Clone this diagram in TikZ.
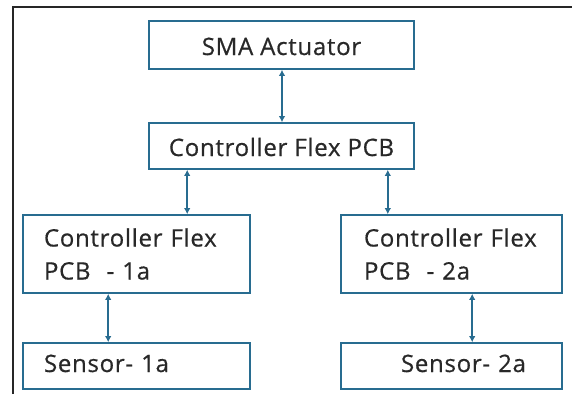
\documentclass[tikz,border=0pt]{standalone}
\usepackage{fontspec}
\setmainfont{Open Sans}[LetterSpace=3,FakeBold=0.6]
\usepackage{xcolor}
\usetikzlibrary{arrows.meta,calc}
\definecolor{boxblue}{RGB}{40,108,144}
\definecolor{txtgray}{RGB}{40,40,40}

\begin{document}
\begin{tikzpicture}[x=1pt,y=-1pt,
        every node/.style={draw=boxblue,line width=1.6pt,text=txtgray,
            font=\fontsize{24}{33}\selectfont,inner ysep=0pt},
        link/.style={draw=boxblue,line width=1.8pt,{Latex[length=6pt,width=6.5pt]}-{Latex[length=6pt,width=6.5pt]}}]

            % page and the frame round it
            \useasboundingbox (0,0) rectangle (572,394);
            \draw[line width=1.8pt,black!85] (13,394) -- (13,7) -- (572,7);

            % top row
            \node (sma) [minimum width=265pt,minimum height=48pt,text height=20pt,text depth=0pt] at (281.5,45) {SMA Actuator};
            \node (ctrl) [minimum width=265pt,minimum height=46pt,text height=20pt,text depth=0pt] at (281.5,146) {Controller Flex PCB};

            % the two flex boards
            \node (pcbA) [minimum width=227pt,minimum height=78pt,text width=185pt,inner xsep=21pt,align=left]
                at (136.5,254) {Controller Flex\\PCB\ \ - 1a};
            \node (pcbB) [minimum width=221pt,minimum height=78pt,text width=175pt,inner xsep=23pt,align=left]
                at (451.5,254) {Controller Flex\\PCB\ \ - 2a};

            % sensors
            \node (senA) [minimum width=227pt,minimum height=46pt,text width=185pt,inner xsep=21pt,align=left,
                text height=12pt,text depth=0pt] at (136.5,366) {Sensor- 1a};
            \node (senB) [minimum width=221pt,minimum height=46pt,text width=161pt,inner xsep=30pt,align=left,
                text height=12pt,text depth=0pt] at (451.5,366) {\hspace*{30pt}Sensor- 2a};

            % links
            \draw[link] ([xshift=0.5pt]sma.south) -- ([xshift=0.5pt]ctrl.north);
            \draw[link] ([xshift=39pt]ctrl.south west) -- ([xshift=39pt]ctrl.south west |- pcbA.north);
            \draw[link] ([xshift=-27pt]ctrl.south east) -- ([xshift=-27pt]ctrl.south east |- pcbB.north);
            \draw[link] ([xshift=86pt]pcbA.south west) -- ([xshift=86pt]senA.north west);
            \draw[link] ([xshift=132pt]pcbB.south west) -- ([xshift=132pt]senB.north west);

\end{tikzpicture}
\end{document}
